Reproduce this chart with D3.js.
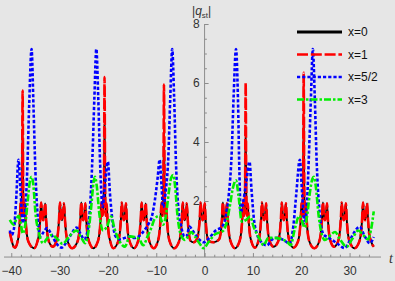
<!DOCTYPE html>
<html><head><meta charset="utf-8">
<script src="https://cdn.jsdelivr.net/npm/d3@7"></script>
<style>html,body{margin:0;padding:0;background:#e6e6e6;} svg{display:block;}</style>
</head><body>
<svg id="c" width="395" height="281"></svg>
<script>
const xTicks = [-40,-30,-20,-10,0,10,20,30];
const yTicks = [2,4,6,8];
const seriesNames = ["x=0","x=1","x=5/2","x=3"];
const seriesColors = ["#000000","#ff0000","#0000ff","#00ee00"];

const red = [
[-40.3,0.95],[-39.9,0.65],[-39.5,0.45],[-39.2,0.42],
[-38.7,0.62],[-38.4,0.9],[-38.22,1.35],[-38.07,1.95],[-37.9,1.5],[-37.77,2.4],[-37.65,5.74],[-37.53,2.4],[-37.4,1.5],[-37.23,1.92],[-37.03,1.35],[-36.8,0.9],[-36.45,0.62],
[-35.3,0.4],
[-34.6,0.62],[-34.25,0.9],[-34.02,1.35],[-33.82,1.95],[-33.6,1.5],[-33.4,1.35],[-33.2,1.5],[-32.98,1.92],[-32.78,1.35],[-32.55,0.9],[-32.2,0.62],
[-31.4,0.45],
[-30.7,0.62],[-30.35,0.9],[-30.12,1.35],[-29.92,1.95],[-29.7,1.5],[-29.5,1.35],[-29.3,1.5],[-29.08,1.92],[-28.88,1.35],[-28.65,0.9],[-28.3,0.62],
[-27.4,0.4],
[-26.3,0.62],[-25.95,0.9],[-25.72,1.35],[-25.52,1.95],[-25.3,1.5],[-25.1,1.35],[-24.9,1.5],[-24.68,1.92],[-24.48,1.35],[-24.25,0.9],[-23.9,0.62],
[-23.0,0.4],
[-22.1,0.62],[-21.75,0.9],[-21.52,1.35],[-21.32,1.95],[-21.1,1.5],[-20.82,2.4],[-20.7,6.2],[-20.58,2.4],[-20.45,1.5],[-20.28,1.92],[-20.08,1.35],[-19.85,0.9],[-19.5,0.62],
[-18.9,0.4],
[-17.9,0.62],[-17.55,0.9],[-17.32,1.35],[-17.12,1.95],[-16.9,1.5],[-16.7,1.35],[-16.5,1.5],[-16.28,1.92],[-16.08,1.35],[-15.85,0.9],[-15.5,0.62],
[-14.6,0.4],
[-13.8,0.62],[-13.45,0.9],[-13.22,1.35],[-13.02,1.95],[-12.8,1.5],[-12.6,1.35],[-12.4,1.5],[-12.18,1.92],[-11.98,1.35],[-11.75,0.9],[-11.4,0.62],
[-10.5,0.4],
[-9.7,0.62],[-9.35,0.9],[-9.12,1.35],[-8.92,1.95],[-8.7,1.5],[-8.52,2.4],[-8.4,5.95],[-8.28,2.4],[-8.15,1.5],[-7.98,1.92],[-7.78,1.35],[-7.55,0.9],[-7.2,0.62],
[-6.3,0.4],
[-5.3,0.62],[-4.95,0.9],[-4.72,1.35],[-4.52,1.95],[-4.3,1.5],[-4.1,1.35],[-3.9,1.5],[-3.68,1.92],[-3.48,1.35],[-3.25,0.9],[-2.9,0.65],
[-2.3,0.6],
[-1.6,0.7],[-1.25,0.95],[-1.02,1.35],[-0.82,1.95],[-0.6,1.5],[-0.4,1.35],[-0.2,1.5],[0.02,1.92],[0.22,1.35],[0.45,0.9],[0.8,0.65],
[1.9,0.6],
[3.0,0.7],[3.35,0.95],[3.58,1.35],[3.78,1.95],[4.0,1.5],[4.2,1.35],[4.4,1.5],[4.62,1.92],[4.82,1.35],[5.05,0.9],[5.4,0.62],
[6.3,0.4],
[7.2,0.62],[7.55,0.9],[7.78,1.35],[7.98,1.95],[8.2,1.5],[8.38,2.4],[8.5,6.0],[8.62,2.4],[8.75,1.5],[8.92,1.92],[9.12,1.35],[9.35,0.9],[9.7,0.62],
[10.4,0.42],
[11.1,0.62],[11.45,0.9],[11.68,1.35],[11.88,1.95],[12.1,1.5],[12.3,1.35],[12.5,1.5],[12.72,1.92],[12.92,1.35],[13.15,0.9],[13.5,0.62],
[14.3,0.45],
[15.2,0.62],[15.55,0.9],[15.78,1.35],[15.98,1.95],[16.2,1.5],[16.4,1.35],[16.6,1.5],[16.82,1.92],[17.02,1.35],[17.25,0.9],[17.6,0.62],
[18.4,0.42],
[19.3,0.62],[19.65,0.9],[19.88,1.35],[20.08,1.95],[20.25,1.5],[20.38,2.4],[20.5,6.35],[20.62,2.4],[20.75,1.5],[20.92,1.92],[21.12,1.35],[21.35,0.9],[21.7,0.62],
[22.7,0.4],
[23.7,0.62],[24.05,0.9],[24.28,1.35],[24.48,1.95],[24.7,1.5],[24.9,1.35],[25.1,1.5],[25.32,1.92],[25.52,1.35],[25.75,0.9],[26.1,0.62],
[26.8,0.45],
[27.6,0.62],[27.95,0.9],[28.18,1.35],[28.38,1.95],[28.6,1.5],[28.8,1.35],[29.0,1.5],[29.22,1.92],[29.42,1.35],[29.65,0.9],[30.0,0.62],
[31.0,0.4],
[32.0,0.62],[32.35,0.9],[32.58,1.35],[32.78,1.95],[33.0,1.5],[33.2,1.35],[33.4,1.5],[33.62,1.92],[33.82,1.35],[34.05,0.9],[34.5,0.6],[35.0,0.45]
];
// x=0 peaks where it differs from x=1 (same t positions, lower spikes)
const blackSpikes = [[-37.65,4.4],[-20.7,4.6],[-8.4,4.4],[8.5,4.4],[20.5,4.7]];

const blue = [
[-40.3,1.0],[-39.9,0.85],[-39.4,1.1],[-39.0,2.0],[-38.5,3.4],[-38.1,2.4],[-37.6,1.25],[-37.1,1.7],[-36.7,3.0],[-36.3,5.2],[-35.8,7.15],[-35.4,5.2],[-35.0,3.0],[-34.5,1.4],[-34.0,0.8],[-33.3,0.95],[-32.6,1.08],[-31.8,0.9],[-30.8,0.6],[-29.6,0.42],[-28.6,0.6],[-27.5,0.9],[-26.5,1.1],[-25.7,0.9],[-24.9,0.7],[-24.2,1.0],[-23.7,1.8],[-23.2,3.5],[-22.8,5.5],[-22.4,7.15],[-22.0,5.5],[-21.6,3.2],[-21.1,1.8],[-20.7,2.4],[-20.0,3.33],[-19.6,2.3],[-19.0,1.25],[-18.4,0.8],[-17.5,0.7],[-16.5,0.75],[-15.5,0.8],[-14.5,0.75],[-13.6,0.8],[-12.5,1.0],[-11.5,1.25],[-11.0,1.42],[-10.5,1.8],[-9.7,2.8],[-9.3,3.4],[-8.9,2.5],[-8.6,1.8],[-8.0,2.4],[-7.5,3.5],[-7.1,5.5],[-6.7,7.15],[-6.3,5.5],[-5.9,3.2],[-5.4,1.7],[-4.8,1.1],[-4.2,0.8],[-3.8,0.79],[-3.1,1.13],[-2.5,1.0],[-1.6,0.79],[-0.2,0.6],[1.0,0.75],[2.3,1.0],[3.6,1.13],[4.3,1.4],[5.0,2.2],[5.6,3.6],[6.0,5.5],[6.5,7.15],[6.9,5.5],[7.2,3.0],[7.5,1.6],[7.9,1.9],[8.6,2.6],[9.3,3.33],[9.7,2.4],[10.2,1.4],[10.8,0.9],[11.3,0.7],[12.9,0.5],[14.0,0.7],[15.0,0.75],[16.3,0.68],[17.6,0.56],[18.4,1.2],[19.0,2.3],[19.7,3.4],[20.2,2.2],[20.7,1.25],[21.2,2.0],[21.6,3.6],[22.0,5.5],[22.4,7.15],[22.8,5.5],[23.2,3.3],[23.8,1.6],[24.5,0.9],[25.2,0.79],[26.2,0.7],[27.5,0.55],[29.0,0.4],[30.0,0.65],[31.0,0.95],[32.1,1.13],[33.0,0.85],[34.2,0.57],[35.0,0.78]
];

const green = [
[-40.3,1.36],[-39.5,1.2],[-38.9,1.4],[-38.5,1.5],[-38.1,1.3],[-37.6,0.9],[-37.1,1.2],[-36.6,2.0],[-36.2,2.6],[-35.8,2.82],[-35.4,2.5],[-35.0,1.6],[-34.4,1.0],[-33.4,0.57],[-32.5,0.75],[-31.6,0.85],[-30.5,0.72],[-29.4,0.55],[-28.0,0.8],[-26.5,1.0],[-25.5,0.75],[-24.7,0.57],[-24.0,1.0],[-23.4,1.9],[-23.0,2.6],[-22.7,2.82],[-22.3,2.5],[-21.8,1.6],[-21.0,1.0],[-20.3,1.1],[-19.3,1.47],[-18.7,1.1],[-17.8,0.7],[-17.0,0.5],[-16.5,0.45],[-15.5,0.8],[-14.5,0.78],[-13.5,0.7],[-12.7,0.5],[-11.8,0.8],[-11.0,1.1],[-10.3,1.4],[-9.3,1.5],[-8.6,1.2],[-8.0,1.5],[-7.4,2.3],[-6.9,2.8],[-6.5,2.88],[-6.1,2.5],[-5.6,1.5],[-5.0,0.9],[-4.1,0.68],[-3.4,0.8],[-2.8,0.95],[-2.0,0.8],[-1.0,0.55],[-0.2,0.4],[0.8,0.6],[2.0,0.85],[3.9,1.0],[4.6,1.3],[5.3,1.9],[5.8,2.4],[6.5,2.7],[7.0,2.2],[7.7,1.3],[8.5,1.35],[9.4,1.47],[10.2,1.1],[11.5,0.68],[12.2,0.5],[13.2,0.75],[14.5,0.75],[16.0,0.7],[17.2,0.6],[17.8,0.5],[18.6,1.0],[19.6,1.5],[20.2,1.3],[20.7,1.1],[21.3,1.6],[21.8,2.3],[22.3,2.75],[22.6,2.82],[23.0,2.5],[23.6,1.5],[24.2,0.9],[24.9,0.68],[25.8,0.8],[27.0,0.95],[28.0,0.7],[29.4,0.45],[30.5,0.7],[31.8,1.0],[32.8,0.85],[33.8,0.7],[34.4,1.0],[35.0,1.65]
];

const black = red.map(([t,v]) => {
  const s = blackSpikes.find(d => d[0] === t);
  return s ? [t, s[1]] : [t, v];
});

const svg = d3.select("#c");
svg.append("rect").attr("width",395).attr("height",281).attr("fill","#e6e6e6");

const x = d3.scaleLinear().domain([-41.5, 36.5]).range([4, 381]);
const y = d3.scaleLinear().domain([0, 8]).range([260, 24]);
const yBase = 0.1;

const line = d3.line().x(d=>x(d[0])).y(d=>y(d[1])).curve(d3.curveMonotoneX);

const data = [
  {pts: black, color: seriesColors[0], w: 1.9, dash: null, lw: 2.8},
  {pts: red, color: seriesColors[1], w: 2.6, dash: "11,2.8", lw: 2.6},
  {pts: blue, color: seriesColors[2], w: 2.6, dash: "3.2,2", lw: 2.6},
  {pts: green, color: seriesColors[3], w: 2.6, dash: "7,2,2.5,2", lw: 2.6}
];

// axes
const axisColor = "#8c8c8c";
const xAxisY = y(yBase);
const xMinor = d3.range(-40, 36, 2).filter(v => !xTicks.includes(v));
const yMinor = d3.range(0.5, 8, 0.5).filter(v => !yTicks.includes(v));

const gx = svg.append("g").attr("transform", `translate(0,${xAxisY})`);
gx.call(d3.axisBottom(x).tickValues(xTicks).tickSize(-4).tickPadding(9)
  .tickFormat(d => d < 0 ? "\u2212" + Math.abs(d) : d));
gx.select(".domain").remove();
gx.selectAll(".tick line").attr("stroke", axisColor);
gx.selectAll("text").attr("font-family","Liberation Sans, Arial, sans-serif").attr("font-size",12).attr("fill","#333");
const gxm = svg.append("g").attr("transform", `translate(0,${xAxisY})`);
gxm.call(d3.axisBottom(x).tickValues(xMinor).tickSize(-2.3).tickFormat(""));
gxm.select(".domain").remove();
gxm.selectAll(".tick line").attr("stroke", axisColor);
svg.append("line").attr("x1",x(-41.5)).attr("x2",x(36.5)).attr("y1",xAxisY).attr("y2",xAxisY).attr("stroke",axisColor).attr("stroke-width",1);

const gy = svg.append("g").attr("transform", `translate(${x(0)},0)`);
gy.call(d3.axisLeft(y).tickValues(yTicks).tickSize(-4).tickPadding(5));
gy.select(".domain").remove();
gy.selectAll(".tick line").attr("stroke", axisColor);
gy.selectAll("text").attr("font-family","Liberation Sans, Arial, sans-serif").attr("font-size",12).attr("fill","#333");
const gym = svg.append("g").attr("transform", `translate(${x(0)},0)`);
gym.call(d3.axisLeft(y).tickValues(yMinor).tickSize(-2.3).tickFormat(""));
gym.select(".domain").remove();
gym.selectAll(".tick line").attr("stroke", axisColor);
svg.append("line").attr("x1",x(0)).attr("x2",x(0)).attr("y1",y(yBase)).attr("y2",y(8)).attr("stroke",axisColor).attr("stroke-width",1);

// series
data.forEach(s => {
  const p = svg.append("path").datum(s.pts).attr("d", line)
    .attr("fill","none").attr("stroke", s.color).attr("stroke-width", s.w)
    .attr("stroke-linejoin","round");
  if (s.dash) p.attr("stroke-dasharray", s.dash);
});

// axis labels
const lab = svg.append("text").attr("x",192).attr("y",15)
  .attr("font-family","Liberation Sans, Arial, sans-serif").attr("font-size",12).attr("fill","#333");
lab.append("tspan").text("|");
lab.append("tspan").attr("font-style","italic").text("q");
lab.append("tspan").attr("font-size",8).attr("dy",3).text("st");
lab.append("tspan").attr("dy",-3).text("|");
svg.append("text").attr("x",389).attr("y",263).attr("font-family","Liberation Serif, Times New Roman, serif")
  .attr("font-style","italic").attr("font-size",14).attr("fill","#333").text("t");

// legend
const legY = [32, 54.5, 77, 99.5];
data.forEach((s,i) => {
  const l = svg.append("line").attr("x1",297).attr("x2",342).attr("y1",legY[i]).attr("y2",legY[i])
    .attr("stroke", s.color).attr("stroke-width", s.lw);
  if (s.dash) l.attr("stroke-dasharray", s.dash);
  svg.append("text").attr("x",348).attr("y",legY[i]).attr("dy","0.35em")
    .attr("font-family","Liberation Sans, Arial, sans-serif").attr("font-size",12).attr("fill","#111")
    .text(seriesNames[i]);
});
</script>
</body></html>
